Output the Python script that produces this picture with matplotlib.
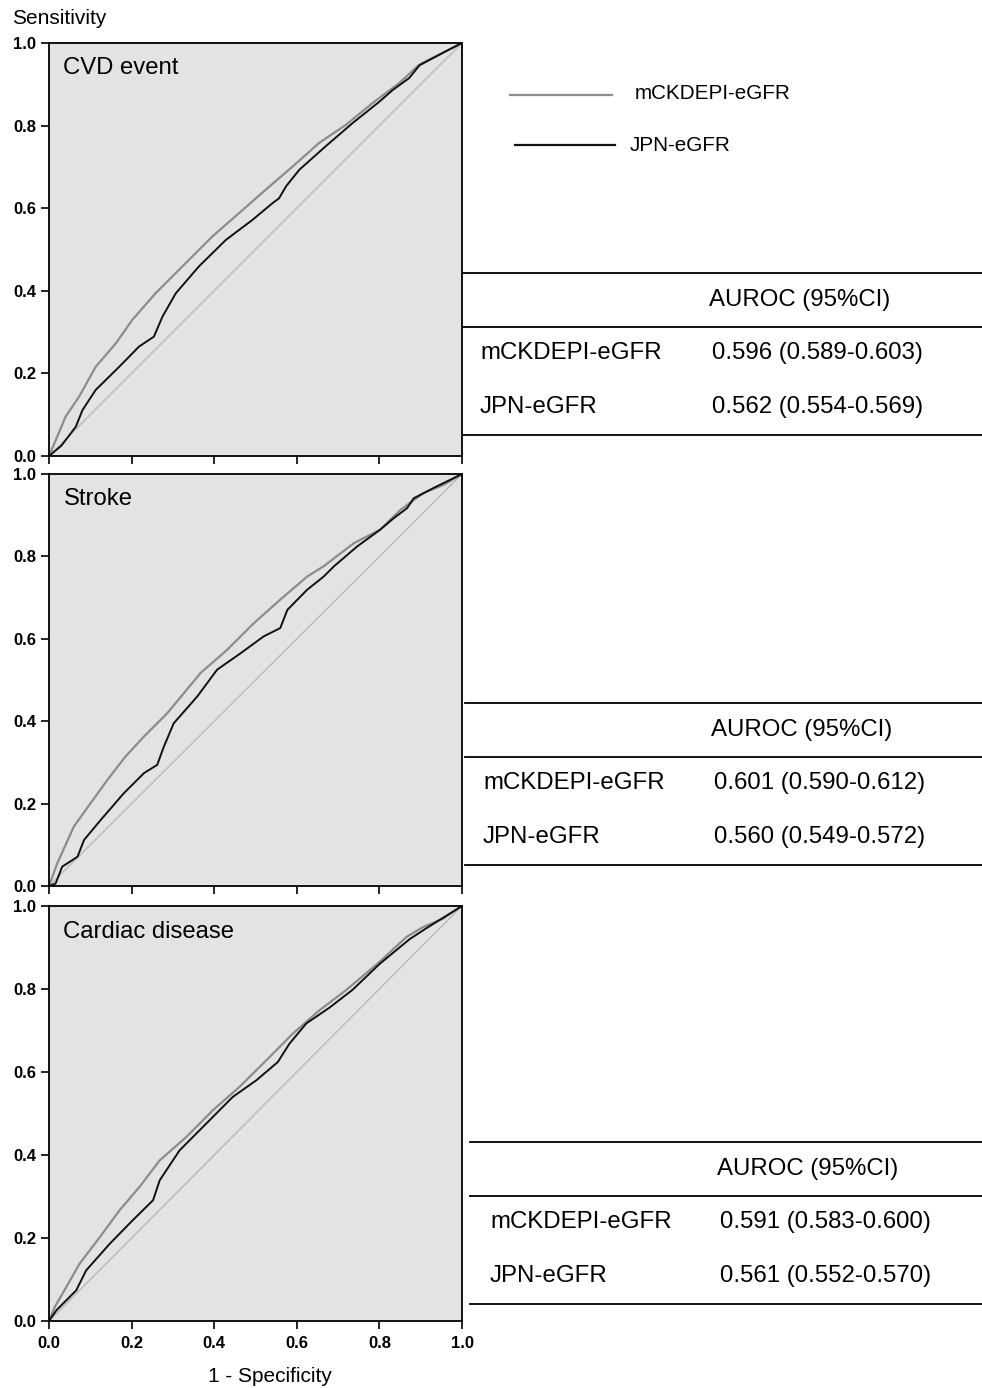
# ROC curves: mCKDEPI-eGFR vs JPN-eGFR for three outcomes

import numpy as np
import matplotlib.pyplot as plt

plt.rcParams['font.family'] = ['Liberation Sans', 'DejaVu Sans']

outcomes = ["CVD event", "Stroke", "Cardiac disease"]
methods = ["mCKDEPI-eGFR", "JPN-eGFR"]

# (1 - specificity, sensitivity)
cvd_ckd_x = [0, 0.02, 0.04, 0.073, 0.113, 0.162, 0.202, 0.258, 0.331, 0.396, 0.46, 0.525, 0.59, 0.654, 0.719, 0.784, 0.848, 0.897, 0.945, 1.0]
cvd_ckd_y = [0, 0.047, 0.095, 0.144, 0.216, 0.273, 0.33, 0.394, 0.467, 0.532, 0.588, 0.645, 0.701, 0.758, 0.802, 0.855, 0.903, 0.948, 0.972, 1.0]
cvd_jpn_x = [0, 0.03, 0.065, 0.081, 0.113, 0.17, 0.218, 0.254, 0.275, 0.307, 0.363, 0.428, 0.493, 0.541, 0.557, 0.574, 0.606, 0.67, 0.735, 0.80, 0.832, 0.872, 0.897, 0.961, 1.0]
cvd_jpn_y = [0, 0.025, 0.071, 0.111, 0.16, 0.216, 0.265, 0.289, 0.338, 0.394, 0.459, 0.523, 0.572, 0.612, 0.624, 0.653, 0.693, 0.75, 0.806, 0.858, 0.886, 0.915, 0.946, 0.98, 1.0]

stroke_ckd_x = [0, 0.02, 0.06, 0.10, 0.141, 0.185, 0.23, 0.286, 0.367, 0.431, 0.496, 0.56, 0.625, 0.665, 0.738, 0.802, 0.851, 0.907, 0.956, 1.0]
stroke_ckd_y = [0, 0.055, 0.144, 0.20, 0.257, 0.314, 0.363, 0.419, 0.517, 0.573, 0.638, 0.695, 0.751, 0.776, 0.832, 0.865, 0.913, 0.954, 0.974, 1.0]
stroke_jpn_x = [0, 0.016, 0.032, 0.069, 0.085, 0.125, 0.181, 0.23, 0.262, 0.278, 0.302, 0.359, 0.407, 0.464, 0.52, 0.56, 0.577, 0.625, 0.665, 0.69, 0.746, 0.802, 0.835, 0.867, 0.883, 0.931, 1.0]
stroke_jpn_y = [0, 0.006, 0.047, 0.071, 0.112, 0.16, 0.225, 0.274, 0.294, 0.338, 0.395, 0.46, 0.525, 0.565, 0.606, 0.626, 0.67, 0.719, 0.751, 0.776, 0.824, 0.865, 0.893, 0.917, 0.941, 0.966, 1.0]

cardiac_ckd_x = [0, 0.014, 0.042, 0.074, 0.123, 0.171, 0.219, 0.268, 0.332, 0.397, 0.461, 0.526, 0.59, 0.655, 0.719, 0.80, 0.865, 0.905, 0.953, 1.0]
cardiac_ckd_y = [0, 0.034, 0.082, 0.138, 0.202, 0.267, 0.323, 0.387, 0.443, 0.508, 0.564, 0.628, 0.692, 0.749, 0.797, 0.865, 0.925, 0.949, 0.969, 1.0]
cardiac_jpn_x = [0, 0.018, 0.066, 0.09, 0.147, 0.203, 0.252, 0.268, 0.316, 0.381, 0.445, 0.502, 0.554, 0.582, 0.623, 0.679, 0.735, 0.80, 0.873, 0.913, 1.0]
cardiac_jpn_y = [0, 0.026, 0.074, 0.122, 0.186, 0.243, 0.291, 0.339, 0.411, 0.476, 0.54, 0.58, 0.624, 0.668, 0.717, 0.755, 0.798, 0.86, 0.92, 0.946, 1.0]

auroc = [["0.596 (0.589-0.603)", "0.562 (0.554-0.569)"],
         ["0.601 (0.590-0.612)", "0.560 (0.549-0.572)"],
         ["0.591 (0.583-0.600)", "0.561 (0.552-0.570)"]]

curves = [(cvd_ckd_x, cvd_ckd_y, cvd_jpn_x, cvd_jpn_y),
          (stroke_ckd_x, stroke_ckd_y, stroke_jpn_x, stroke_jpn_y),
          (cardiac_ckd_x, cardiac_ckd_y, cardiac_jpn_x, cardiac_jpn_y)]

W, H = 982, 1388
fig = plt.figure(figsize=(W / 100, H / 100), dpi=100)

# panel boxes in pixels: top, bottom
boxes = [(43, 456), (474, 886), (906, 1321)]
left, right = 49, 462
ticks = [0, 0.2, 0.4, 0.6, 0.8, 1.0]

axes = []
for i, (top, bot) in enumerate(boxes):
    ax = fig.add_axes([left / W, 1 - bot / H, (right - left) / W, (bot - top) / H])
    ax.set_facecolor('#e3e3e3')
    cx, cy, jx, jy = curves[i]
    ax.plot([0, 1], [0, 1], color='#b8b8b8', lw=1.0)
    ax.plot(cx, cy, color='#8c8c8c', lw=1.6)
    ax.plot(jx, jy, color='#111111', lw=1.4)
    ax.set_xlim(0, 1)
    ax.set_ylim(0, 1)
    ax.set_xticks(ticks)
    ax.set_yticks(ticks)
    ax.set_yticklabels(["%.1f" % t for t in ticks], fontsize=12, fontweight='bold')
    if i == 2:
        ax.set_xticklabels(["%.1f" % t for t in ticks], fontsize=12, fontweight='bold')
    else:
        ax.set_xticklabels([])
    ax.tick_params(direction='out', length=6, width=1.2)
    ax.tick_params(axis='x', pad=5)
    ax.tick_params(axis='y', pad=3)
    for s in ax.spines.values():
        s.set_linewidth(1.3)
    ax.text(0.035, 0.965, outcomes[i], transform=ax.transAxes, fontsize=17.2,
            va='top', ha='left')
    axes.append(ax)

fig.text(12 / W, 1 - 18 / H, "Sensitivity", fontsize=15, va='center', ha='left')
fig.text(270 / W, 1 - 1377 / H, "1 - Specificity", fontsize=15, va='center', ha='center')

# overlay in pixel coordinates for legend and tables
ov = fig.add_axes([0, 0, 1, 1])
ov.set_xlim(0, W)
ov.set_ylim(H, 0)
ov.axis('off')
ov.patch.set_alpha(0)

ov.plot([510, 612], [95, 95], color='#8c8c8c', lw=1.6)
ov.plot([515, 615], [145, 145], color='#111111', lw=1.6)
ov.text(635, 93, methods[0], fontsize=14.9, va='center', ha='left')
ov.text(630, 145, methods[1], fontsize=14.9, va='center', ha='left')

tables = [(463, 273, 480, 712), (465, 703, 483, 714), (470, 1142, 490, 720)]
for i, (x0, y0, lx, vx) in enumerate(tables):
    for dy in (0, 54, 162):
        ov.plot([x0, W], [y0 + dy, y0 + dy], color='black', lw=1.3)
    ov.text(vx - 3, y0 + 27, "AUROC (95%CI)", fontsize=17.3, va='center', ha='left')
    ov.text(lx, y0 + 80, methods[0], fontsize=17.3, va='center', ha='left')
    ov.text(vx, y0 + 80, auroc[i][0], fontsize=17.3, va='center', ha='left')
    ov.text(lx, y0 + 134, methods[1], fontsize=17.3, va='center', ha='left')
    ov.text(vx, y0 + 134, auroc[i][1], fontsize=17.3, va='center', ha='left')

fig.savefig("out.png", dpi=100, facecolor='white')
